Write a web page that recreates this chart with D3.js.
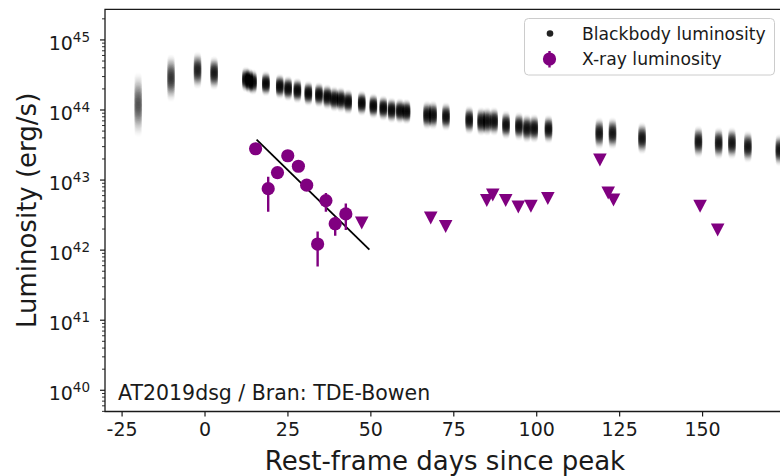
<!DOCTYPE html>
<html>
<head>
<meta charset="utf-8">
<script src="https://cdn.jsdelivr.net/npm/d3@7"></script>
<style>
  body { margin: 0; background: #fff; }
  svg { display: block; font-family: "DejaVu Sans", sans-serif; }
</style>
</head>
<body>
<svg id="chart" width="780" height="476"></svg>
<script>
// Blackbody luminosity posterior per epoch: rest-frame day, median log10 L, spread (dex)
const bbDays = [-20.0, -10.1, -2.1, 2.9, 12.5, 13.5, 14.6, 18.5, 22.7, 25.2, 28.0, 31.3, 34.5, 37.0,
  39.1, 41.1, 43.3, 47.4, 50.9, 53.9, 56.4, 58.9, 60.9, 67.1, 68.9, 72.8, 79.8, 83.4, 85.2, 87.3,
  90.9, 94.8, 97.2, 99.4, 103.7, 119.0, 123.0, 131.9, 148.9, 155.0, 159.0, 163.8, 173.3];
const bbLogL = [44.07, 44.45, 44.56, 44.52, 44.43, 44.41, 44.39, 44.37, 44.33, 44.30, 44.27, 44.23, 44.21, 44.18,
  44.15, 44.14, 44.11, 44.09, 44.05, 44.02, 43.99, 43.98, 43.97, 43.92, 43.92, 43.90, 43.85, 43.83, 43.83, 43.83,
  43.78, 43.76, 43.73, 43.73, 43.72, 43.66, 43.66, 43.59, 43.54, 43.52, 43.52, 43.47, 43.42];
const bbSpread = [0.17, 0.12, 0.09, 0.08, 0.055, 0.055, 0.055, 0.055, 0.055, 0.055, 0.055, 0.055, 0.055, 0.055,
  0.055, 0.055, 0.055, 0.055, 0.055, 0.055, 0.055, 0.055, 0.055, 0.065, 0.065, 0.065, 0.065, 0.065, 0.065, 0.065,
  0.065, 0.065, 0.065, 0.065, 0.065, 0.075, 0.075, 0.075, 0.075, 0.075, 0.075, 0.075, 0.075];

// X-ray detections: day, log10 L, lower / upper error bounds (log10)
const xrDays = [15.4, 19.2, 22.0, 25.1, 28.3, 30.8, 34.1, 36.6, 39.4, 42.6];
const xrLogL = [43.44, 42.87, 43.10, 43.34, 43.19, 42.92, 42.08, 42.70, 42.37, 42.51];
const xrLo   = [43.40, 42.54, 43.05, 43.30, 43.15, 42.87, 41.76, 42.54, 42.20, 42.28];
const xrHi   = [43.48, 43.04, 43.15, 43.38, 43.23, 42.97, 42.26, 42.81, 42.47, 42.66];

// X-ray upper limits
const ulDays = [47.4, 68.2, 72.7, 85.1, 86.9, 90.8, 94.6, 98.4, 103.5, 119.2, 121.7, 123.3, 149.4, 154.7];
const ulLogL = [42.38, 42.45, 42.33, 42.70, 42.78, 42.70, 42.61, 42.62, 42.73, 43.28, 42.81, 42.71, 42.62, 42.28];

// Exponential decay fit to the X-ray detections (end points)
const fitDays = [15.7, 49.7];
const fitLogL = [43.57, 42.00];

const xTicks = [-25, 0, 25, 50, 75, 100, 125, 150];
const yDecades = [40, 41, 42, 43, 44, 45];

const PURPLE = "#800080";
const INK = "#1a1a1a";

const svg = d3.select("#chart");
const pL = 105, pR = 785, pT = 9.3, pB = 411.5;

const x = d3.scaleLinear().domain([-30, 175]).range([pL, pR]);
const y = d3.scaleLog().domain([Math.pow(10, 39.69), Math.pow(10, 45.43)]).range([pB, pT]);
const L = v => Math.pow(10, v);

// clip for the plotting area
svg.append("defs").append("clipPath").attr("id", "plotclip")
  .append("rect").attr("x", pL).attr("y", pT).attr("width", pR - pL).attr("height", pB - pT);

const plot = svg.append("g").attr("clip-path", "url(#plotclip)");

// Blackbody posterior clouds: stacked translucent dots, denser near the median
const steps = d3.range(-2.4, 2.41, 0.08);
bbDays.forEach((d, i) => {
  const g = plot.append("g");
  steps.forEach(t => {
    g.append("circle")
      .attr("cx", x(d))
      .attr("cy", y(L(bbLogL[i] + t * bbSpread[i])))
      .attr("r", 3.9)
      .attr("fill", "#000")
      .attr("fill-opacity", 0.13 * Math.exp(-t * t / 2));
  });
});

// Decay fit line
plot.append("line")
  .attr("x1", x(fitDays[0])).attr("y1", y(L(fitLogL[0])))
  .attr("x2", x(fitDays[1])).attr("y2", y(L(fitLogL[1])))
  .attr("stroke", "#000").attr("stroke-width", 1.8);

// X-ray error bars and detections
xrDays.forEach((d, i) => {
  plot.append("line")
    .attr("x1", x(d)).attr("x2", x(d))
    .attr("y1", y(L(xrLo[i]))).attr("y2", y(L(xrHi[i])))
    .attr("stroke", PURPLE).attr("stroke-width", 2.4);
});
plot.selectAll("circle.xr").data(xrDays).join("circle")
  .attr("class", "xr")
  .attr("cx", d => x(d))
  .attr("cy", (d, i) => y(L(xrLogL[i])))
  .attr("r", 6.6)
  .attr("fill", PURPLE);

// X-ray upper limits (downward triangles)
const tri = "M-6.8,-6.5L6.8,-6.5L0,6.5Z";
plot.selectAll("path.ul").data(ulDays).join("path")
  .attr("class", "ul")
  .attr("d", tri)
  .attr("transform", (d, i) => `translate(${x(d)},${y(L(ulLogL[i]))})`)
  .attr("fill", PURPLE);

// Axes
const xAxis = svg.append("g").attr("transform", `translate(0,${pB})`)
  .call(d3.axisBottom(x).tickValues(xTicks).tickSize(5).tickSizeOuter(0).tickPadding(6)
    .tickFormat(d => String(d)));
xAxis.select(".domain").remove();
xAxis.selectAll("line").attr("stroke", INK).attr("stroke-width", 1.2);
xAxis.selectAll("text").attr("font-size", 19).attr("fill", INK)
  .attr("font-family", "DejaVu Sans, sans-serif");

// minor log ticks
const minor = [];
yDecades.concat([39]).forEach(e => {
  for (let k = 2; k <= 9; k++) {
    const v = k * Math.pow(10, e);
    if (v > y.domain()[0] && v < y.domain()[1]) minor.push(v);
  }
});
const yMinor = svg.append("g").attr("transform", `translate(${pL},0)`)
  .call(d3.axisLeft(y).tickValues(minor).tickSize(3).tickSizeOuter(0).tickFormat(""));
yMinor.select(".domain").remove();
yMinor.selectAll("line").attr("stroke", INK).attr("stroke-width", 0.9);

const yAxis = svg.append("g").attr("transform", `translate(${pL},0)`)
  .call(d3.axisLeft(y).tickValues(yDecades.map(L)).tickSize(5).tickSizeOuter(0).tickFormat(""));
yAxis.select(".domain").remove();
yAxis.selectAll("line").attr("stroke", INK).attr("stroke-width", 1.2);
yAxis.selectAll(".tick").each(function (v) {
  const e = Math.round(Math.log10(v));
  const t = d3.select(this).append("text")
    .attr("x", -15).attr("y", 10)
    .attr("text-anchor", "end")
    .attr("fill", INK)
    .attr("font-size", 19)
    .attr("font-family", "DejaVu Sans, sans-serif");
  t.append("tspan").text("10");
  t.append("tspan").attr("dy", -8).attr("font-size", 13.5).text(String(e));
});

// Spines (right edge lies just past the visible area)
svg.append("path")
  .attr("d", `M${pR},${pT}H${pL}V${pB}H${pR}`)
  .attr("fill", "none").attr("stroke", INK).attr("stroke-width", 1.3);

// Axis titles
svg.append("text")
  .attr("x", (pL + pR) / 2).attr("y", 470)
  .attr("text-anchor", "middle").attr("font-size", 26).attr("fill", INK)
  .text("Rest-frame days since peak");
svg.append("text")
  .attr("transform", `translate(36,${(pT + pB) / 2}) rotate(-90)`)
  .attr("text-anchor", "middle").attr("font-size", 26).attr("fill", INK)
  .text("Luminosity (erg/s)");

// Object label
svg.append("text")
  .attr("x", 118).attr("y", 400)
  .attr("font-size", 20.5).attr("fill", INK)
  .text("AT2019dsg / Bran: TDE-Bowen");

// Legend
const lg = svg.append("g");
lg.append("rect")
  .attr("x", 524.5).attr("y", 18.5).attr("width", 250).attr("height", 56.5).attr("rx", 4)
  .attr("fill", "#fff").attr("fill-opacity", 0.85)
  .attr("stroke", "#cccccc").attr("stroke-width", 1);
lg.append("circle").attr("cx", 550).attr("cy", 33.5).attr("r", 3.3).attr("fill", "#222");
lg.append("text").attr("x", 582).attr("y", 33.5).attr("dy", "0.35em")
  .attr("font-size", 17.2).attr("fill", INK).text("Blackbody luminosity");
lg.append("line").attr("x1", 549.5).attr("x2", 549.5).attr("y1", 51).attr("y2", 67.5)
  .attr("stroke", PURPLE).attr("stroke-width", 2.4);
lg.append("circle").attr("cx", 549.5).attr("cy", 59).attr("r", 6.6).attr("fill", PURPLE);
lg.append("text").attr("x", 582).attr("y", 59).attr("dy", "0.35em")
  .attr("font-size", 17.2).attr("fill", INK).text("X-ray luminosity");
</script>
</body>
</html>
